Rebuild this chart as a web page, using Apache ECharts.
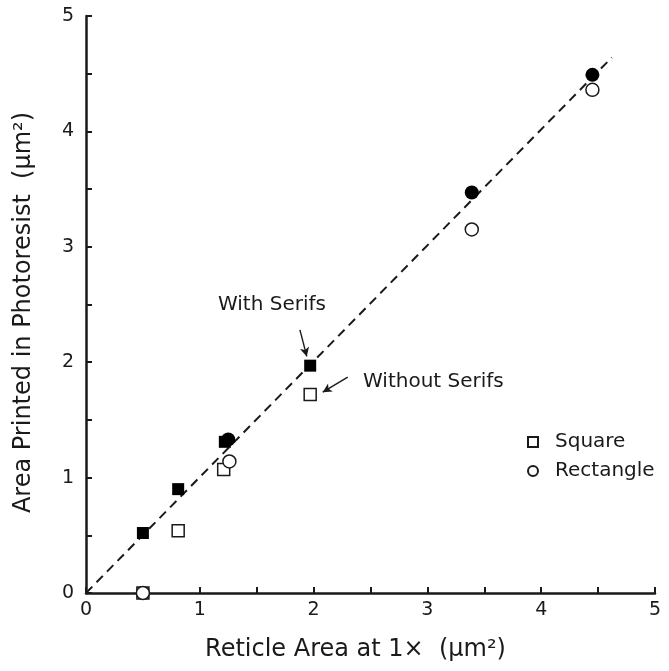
<!DOCTYPE html>
<html><head><meta charset="utf-8">
<script src="https://cdn.jsdelivr.net/npm/echarts@6/dist/echarts.min.js"></script>
<style>html,body{margin:0;padding:0;background:#fff}#c{width:669px;height:671px}</style>
</head><body><div id="c"></div>
<script>
var withSerifsSquare = [[0.5,0.52],[0.81,0.90],[1.22,1.31],[1.97,1.97]];
var withoutSerifsSquare = [[0.5,0.0],[0.81,0.54],[1.21,1.07],[1.97,1.72]];
var withSerifsRect = [[1.25,1.33],[3.39,3.47],[4.45,4.49]];
var withoutSerifsRect = [[0.5,0.0],[1.26,1.14],[3.39,3.15],[4.45,4.36]];
var fitLine = [[0,0],[4.62,4.64]];
var xTitle = 'Reticle Area at 1\u00d7  (\u03bcm\u00b2)';
var yTitle = 'Area Printed in Photoresist  (\u03bcm\u00b2)';
var annWith = {text:'With Serifs', at:[1.634,2.50], arrow:[[1.88,2.28],[1.94,2.05]]};
var annWithout = {text:'Without Serifs', at:[2.434,1.83], arrow:[[2.30,1.87],[2.08,1.74]]};

var ink = '#1a1a1a';
var FF = 'DejaVu Sans, Liberation Sans, sans-serif';
var chart = echarts.init(document.getElementById('c'));
function axisCommon(){
  return {
    type:'value', min:0, max:5, interval:0.5,
    axisLine:{show:true, lineStyle:{color:ink, width:2.5}},
    axisTick:{show:true, inside:true, length:6, lineStyle:{color:ink, width:2}},
    splitLine:{show:false},
    axisLabel:{color:ink, fontSize:19, fontFamily:FF,
      formatter:function(v){return (Math.abs(v-Math.round(v))<1e-9)?String(Math.round(v)):'';}}
  };
}
var xa = axisCommon(); xa.name = xTitle; xa.nameLocation='middle'; xa.nameGap=45;
xa.nameTextStyle={color:ink, fontSize:24, fontFamily:FF, padding:[0,30,0,0]};
xa.axisLabel.margin=8;
var ya = axisCommon(); ya.name = yTitle; ya.nameLocation='middle'; ya.nameGap=50;
ya.nameTextStyle={color:ink, fontSize:24, fontFamily:FF, padding:[0,16,0,0]};
ya.axisLabel.margin=12;

function arrowLine(a){
  return [[{coord:a.arrow[0]},{coord:a.arrow[1]}]];
}
var openStyle = {color:'#fff', borderColor:ink, borderWidth:1.5, opacity:1};
var fillStyle = {color:'#000', opacity:1};
chart.setOption({
  animation:false,
  backgroundColor:'#fff',
  grid:{left:86, right:14, top:16, bottom:78, containLabel:false},
  xAxis:xa, yAxis:ya,
  legend:{
    orient:'vertical', left:522, top:427, itemGap:9, itemWidth:10, itemHeight:10,
    data:[{name:'Square', icon:'rect'},{name:'Rectangle', icon:'circle'}],
    textStyle:{color:ink, fontSize:20, fontFamily:FF, padding:[0,0,0,12]}
  },
  series:[
    {type:'line', data:fitLine, symbol:'none', silent:true,
     lineStyle:{color:ink, width:2, type:[9,6]}, z:1},
    {name:'Square', type:'scatter', data:withoutSerifsSquare, symbol:'rect', symbolSize:12,
     itemStyle:openStyle, z:3},
    {name:'Rectangle', type:'scatter', data:withoutSerifsRect, symbol:'circle', symbolSize:13,
     itemStyle:openStyle, z:3},
    {name:'SquareFilled', type:'scatter', data:withSerifsSquare, symbol:'rect', symbolSize:12,
     itemStyle:fillStyle, z:4},
    {name:'RectFilled', type:'scatter', data:withSerifsRect, symbol:'circle', symbolSize:14,
     itemStyle:fillStyle, z:4},
    {type:'scatter', data:[annWith.at], symbolSize:0, silent:true, itemStyle:{color:ink, opacity:1},
     label:{show:true, position:'inside', formatter:annWith.text, color:ink, fontSize:20,
       fontFamily:FF, textBorderWidth:0},
     markLine:{silent:true, symbol:['none','arrow'], symbolSize:[7,9], label:{show:false},
       lineStyle:{color:ink, width:1.4, type:'solid', opacity:1}, data:arrowLine(annWith)}},
    {type:'scatter', data:[annWithout.at], symbolSize:0, silent:true, itemStyle:{color:ink, opacity:1},
     label:{show:true, position:'right', distance:0, formatter:annWithout.text, color:ink, fontSize:20,
       fontFamily:FF, textBorderWidth:0},
     markLine:{silent:true, symbol:['none','arrow'], symbolSize:[7,9], label:{show:false},
       lineStyle:{color:ink, width:1.4, type:'solid', opacity:1}, data:arrowLine(annWithout)}}
  ]
});
</script></body></html>
